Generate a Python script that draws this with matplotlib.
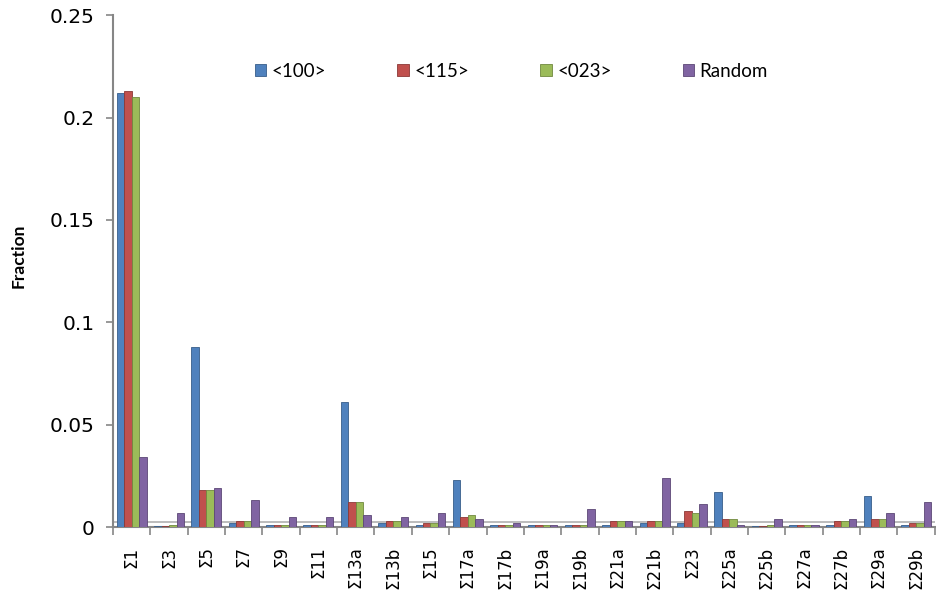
import numpy as np
import matplotlib.pyplot as plt

plt.rcParams['font.family'] = ['Lato', 'DejaVu Sans']

categories = ["Σ1", "Σ3", "Σ5", "Σ7", "Σ9", "Σ11", "Σ13a", "Σ13b", "Σ15", "Σ17a", "Σ17b",
              "Σ19a", "Σ19b", "Σ21a", "Σ21b", "Σ23", "Σ25a", "Σ25b", "Σ27a", "Σ27b", "Σ29a", "Σ29b"]

axis_100 = [0.212, 0.0005, 0.088, 0.002, 0.001, 0.001, 0.061, 0.002, 0.001, 0.023, 0.001,
            0.001, 0.001, 0.001, 0.002, 0.002, 0.017, 0.0005, 0.001, 0.001, 0.015, 0.001]
axis_115 = [0.213, 0.0005, 0.018, 0.003, 0.001, 0.001, 0.012, 0.003, 0.002, 0.005, 0.001,
            0.001, 0.001, 0.003, 0.003, 0.008, 0.004, 0.0005, 0.001, 0.003, 0.004, 0.002]
axis_023 = [0.210, 0.001, 0.018, 0.003, 0.001, 0.001, 0.012, 0.003, 0.002, 0.006, 0.001,
            0.001, 0.001, 0.003, 0.003, 0.007, 0.004, 0.001, 0.001, 0.003, 0.004, 0.002]
random_ = [0.034, 0.007, 0.019, 0.013, 0.005, 0.005, 0.006, 0.005, 0.007, 0.004, 0.002,
           0.001, 0.009, 0.003, 0.024, 0.011, 0.001, 0.004, 0.001, 0.004, 0.007, 0.012]

yticks = [0, 0.05, 0.1, 0.15, 0.2, 0.25]
ytick_labels = ["0", "0.05", "0.1", "0.15", "0.2", "0.25"]

series = [("<100>", axis_100, "#4F81BD", "#385D8A"),
          ("<115>", axis_115, "#C0504D", "#8C3836"),
          ("<023>", axis_023, "#9BBB59", "#71893F"),
          ("Random", random_, "#8064A2", "#5C4776")]

fig = plt.figure(figsize=(9.37, 5.98), dpi=100)
ax = fig.add_axes([0.1206, 0.1187, 0.877, 0.856])

x = np.arange(len(categories))
w = 0.2
for i, (name, vals, color, edge) in enumerate(series):
    ax.bar(x + (i - 1.5) * w, vals, width=w, color=color, edgecolor=edge,
           linewidth=0.6, label=name, zorder=3)

ax.set_xlim(-0.5, len(categories) - 0.5)
ax.set_ylim(0, 0.25)
ax.set_yticks(yticks)
ax.set_yticklabels(ytick_labels, fontfamily='DejaVu Sans', fontsize=14.5)

ax.set_xticks(x)
ax.set_xticklabels(categories, rotation=90, fontfamily='DejaVu Sans', fontsize=12)
ax.set_xticks(np.arange(len(categories) + 1) - 0.5, minor=True)
ax.tick_params(axis='x', which='major', length=0, pad=14)
ax.tick_params(axis='x', which='minor', length=6, color='#868686', width=1.2)
ax.tick_params(axis='y', length=5, color='#868686', width=1.2, pad=8)

for side in ['top', 'right']:
    ax.spines[side].set_visible(False)
for side in ['left', 'bottom']:
    ax.spines[side].set_color('#868686')
    ax.spines[side].set_linewidth(1.5)
# floor edge of the chart
ax.axhline(0.0025, color='#B0B0B0', linewidth=1.2, zorder=2)

ax.set_ylabel("Fraction", fontsize=12.5, fontweight='bold')
ax.yaxis.set_label_coords(-0.105, 0.53)

ax.legend(loc='upper left', bbox_to_anchor=(0.152, 0.94), ncol=4, frameon=False,
          fontsize=13.5, handlelength=0.6, handleheight=0.6, handletextpad=0.3,
          columnspacing=3.8)

fig.savefig("out.png", dpi=100)
